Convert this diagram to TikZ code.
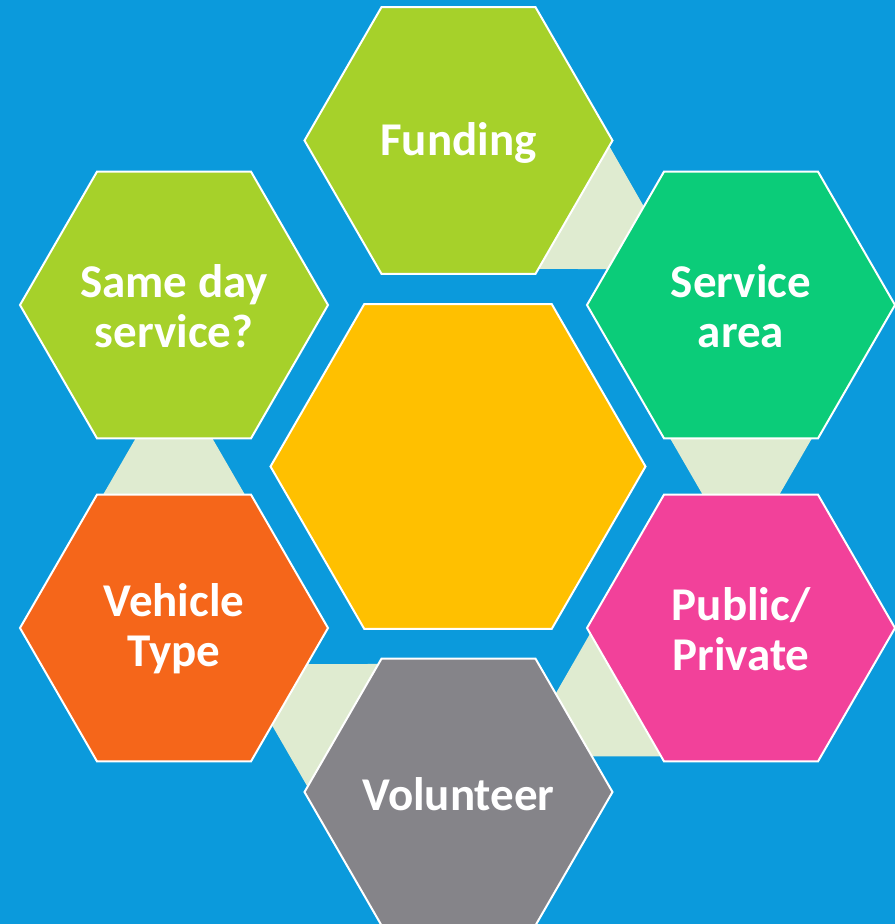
\documentclass[tikz,border=0pt]{standalone}
\usepackage{fontspec}
\setmainfont{Carlito}
\usetikzlibrary{shapes.geometric,calc}
\definecolor{bgblue}{HTML}{0B9ADC}
\definecolor{limeg}{HTML}{A6D12A}
\definecolor{mintg}{HTML}{0BCC79}
\definecolor{pinkc}{HTML}{F2419A}
\definecolor{grayc}{HTML}{858489}
\definecolor{orangec}{HTML}{F5661A}
\definecolor{yellowc}{HTML}{FFC000}
\definecolor{linkc}{HTML}{DFEBD0}
\begin{document}
\begin{tikzpicture}[x=1pt,y=-1pt,
  hexo/.style={regular polygon, regular polygon sides=6, draw=white, line width=2pt,
    inner sep=0pt, outer sep=0pt, minimum size=308pt},
  lbl/.style={text=white, align=center, inner sep=0pt,
    font=\fontsize{47}{50}\selectfont\bfseries},
  link/.style={fill=linkc, draw=none}]
\fill[bgblue] (0,0) rectangle (895,924);
\useasboundingbox (0,0) rectangle (895,924);
% centres
\coordinate (cF) at (458.5,140.5);
\coordinate (cS) at (741,305);
\coordinate (cP) at (741,628);
\coordinate (cV) at (458.5,792);
\coordinate (cT) at (174,628);
\coordinate (cD) at (174,305);
\coordinate (cC) at (458,466.5);
% connectors (drawn behind the hexagons)
\foreach \a/\b in {cF/cS, cS/cP, cP/cV, cV/cT, cT/cD}{
  \fill[link] ($(\a)!148pt!90:(\b)$) -- ($(\a)!256pt!(\b)$) -- ($(\a)!148pt!-90:(\b)$) -- cycle;
}
% hexagons
\node[hexo, fill=yellowc, minimum size=375pt] (center) at (cC) {};
\node[hexo, fill=limeg] (funding) at (cF) {};
\node[hexo, fill=mintg] (service) at (cS) {};
\node[hexo, fill=pinkc] (public) at (cP) {};
\node[hexo, fill=grayc] (volunteer) at (cV) {};
\node[hexo, fill=orangec] (vehicle) at (cT) {};
\node[hexo, fill=limeg] (sameday) at (cD) {};
% labels
\node[lbl] (tfunding) at ([yshift=-2pt]funding.center) {Funding};
\node[lbl] (tservice) at ([yshift=-1pt]service.center) {Service\\area};
\node[lbl] (tpublic) at ([yshift=-1pt]public.center) {Public/\\Private};
\node[lbl] (tvolunteer) at ([yshift=-2pt]volunteer.center) {Volunteer};
\node[lbl] (tvehicle) at ([yshift=-1pt]vehicle.center) {Vehicle\\Type};
\node[lbl] (tsameday) at ([yshift=-1pt]sameday.center) {Same day\\service?};
\end{tikzpicture}
\end{document}
